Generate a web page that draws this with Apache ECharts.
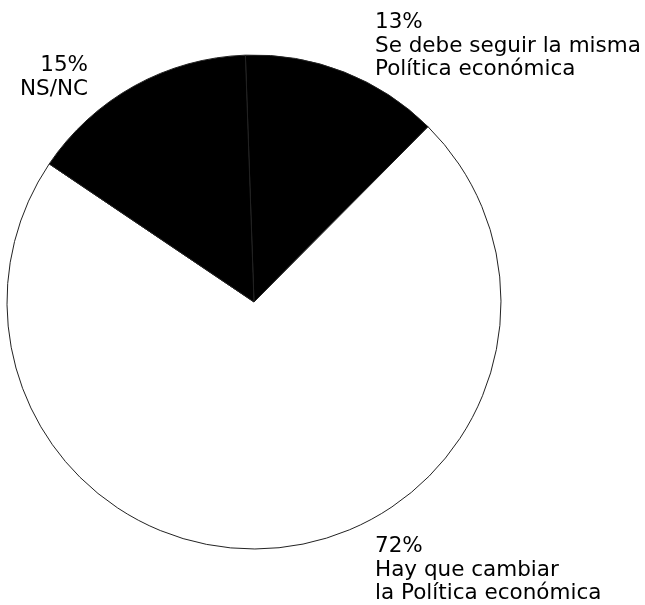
<!DOCTYPE html>
<html>
<head>
<meta charset="utf-8">
<script src="https://cdn.jsdelivr.net/npm/echarts@6/dist/echarts.min.js"></script>
<style>
html,body{margin:0;padding:0;background:#fff;}
#c{width:645px;height:605px;}
</style>
</head>
<body>
<div id="c"></div>
<script>
const categories = ["Se debe seguir la misma\nPolítica económica", "Hay que cambiar\nla Política económica", "NS/NC"];
const values = [13, 72, 15];
const sliceColors = ["#000000", "#ffffff", "#000000"];

const labelSpots = [
  {x: 375, y: 11, align: 'left', verticalAlign: 'top'},
  {x: 375, y: 535, align: 'left', verticalAlign: 'top'},
  {x: 88, y: 54, align: 'right', verticalAlign: 'top'}
];

const chart = echarts.init(document.getElementById('c'), null, {renderer: 'canvas'});
chart.setOption({
  animation: false,
  backgroundColor: '#ffffff',
  series: [{
    type: 'pie',
    center: [254, 302],
    radius: [0, 247],
    startAngle: 92,
    clockwise: true,
    avoidLabelOverlap: false,
    data: categories.map((n, i) => ({
      name: n,
      value: values[i],
      itemStyle: {color: sliceColors[i], borderColor: '#222', borderWidth: 1}
    })),
    label: {
      show: true,
      position: 'outside',
      formatter: p => p.value + '%\n' + p.name,
      fontFamily: 'DejaVu Sans',
      fontSize: 21.5,
      lineHeight: 23.5,
      color: '#000'
    },
    labelLine: {show: false},
    labelLayout: function (params) {
      const s = labelSpots[params.dataIndex];
      return {x: s.x, y: s.y, align: s.align, verticalAlign: s.verticalAlign};
    },
    emphasis: {disabled: true}
  }]
});
</script>
</body>
</html>
